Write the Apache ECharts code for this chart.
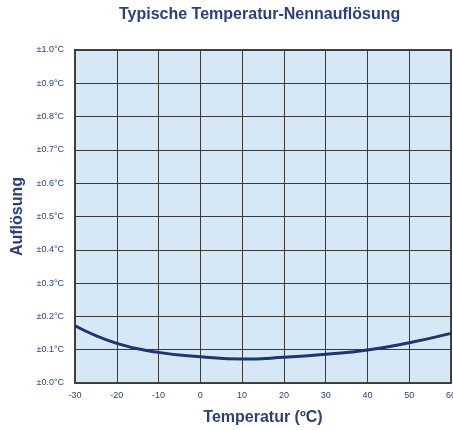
<!DOCTYPE html>
<html><head><meta charset="utf-8">
<script src="https://cdn.jsdelivr.net/npm/echarts@6/dist/echarts.min.js"></script>
<style>html,body{margin:0;padding:0;background:#fff}#c{width:453px;height:430px}</style>
</head><body><div id="c"></div>
<script>
const temps = [-30, -20, -10, 0, 10, 20, 30, 40, 50, 60];
const resolution = [0.172, 0.119, 0.092, 0.079, 0.072, 0.077, 0.086, 0.099, 0.121, 0.149];
const yTickLabels = ['±0.0°C','±0.1°C','±0.2°C','±0.3°C','±0.4°C','±0.5°C','±0.6°C','±0.7°C','±0.8°C','±0.9°C','±1.0°C'];
const txt = '#2b3f7a';
const chart = echarts.init(document.getElementById('c'));
chart.setOption({
  animation: false,
  title: { text: 'Typische Temperatur-Nennauflösung', left: 114, top: 2,
    textStyle: { fontFamily: 'Liberation Sans, Arial', fontWeight: 'bold', fontSize: 16, color: txt } },
  grid: { left: 75, right: 2, top: 50, bottom: 47, show: true, backgroundColor: '#d6e8f6',
    borderColor: '#444', borderWidth: 2, outerBoundsMode: 'none', containLabel: false },
  xAxis: { type: 'value', min: -30, max: 60, interval: 10,
    name: 'Temperatur (ºC)', nameLocation: 'middle', nameGap: 27,
    nameTextStyle: { fontFamily: 'Liberation Sans, Arial', fontWeight: 'bold', fontSize: 16, color: txt },
    axisLine: { show: false }, axisTick: { show: false },
    axisLabel: { fontSize: 9, color: txt, margin: 8, fontFamily: 'Liberation Sans, Arial' },
    splitLine: { show: true, lineStyle: { color: '#3a3a3a', width: 1 } } },
  yAxis: { type: 'value', min: 0, max: 1, interval: 0.1,
    name: 'Auflösung', nameLocation: 'middle', nameGap: 47,
    nameTextStyle: { fontFamily: 'Liberation Sans, Arial', fontWeight: 'bold', fontSize: 16, color: txt },
    axisLine: { show: false }, axisTick: { show: false },
    axisLabel: { fontSize: 9, color: txt, margin: 11, fontFamily: 'Liberation Sans, Arial',
      formatter: v => yTickLabels[Math.round(v * 10)] },
    splitLine: { show: true, lineStyle: { color: '#3a3a3a', width: 1 } } },
  series: [{ type: 'line', smooth: true, symbol: 'none',
    data: temps.map((t, i) => [t, resolution[i]]),
    lineStyle: { color: '#1f3570', width: 3 } }]
});
</script></body></html>
